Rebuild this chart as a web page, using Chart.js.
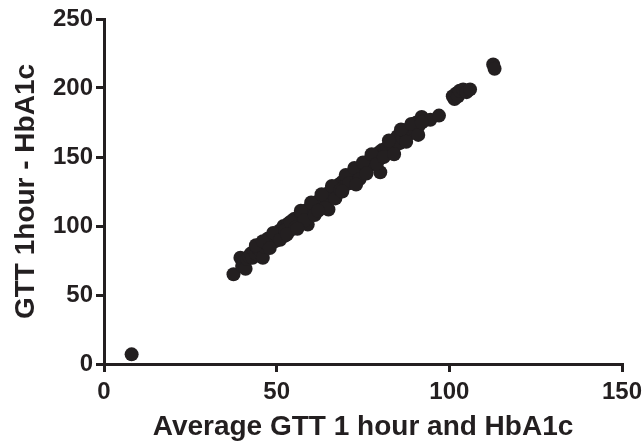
<!DOCTYPE html>
<html lang="en">
<head>
    <meta charset="UTF-8">
    <title>GTT 1 hour vs HbA1c</title>
    <script src="https://cdn.jsdelivr.net/npm/chart.js"></script>
    <style>
        html, body {
            margin: 0;
            padding: 0;
            background: #ffffff;
            overflow: hidden;
        }
        .chart-box {
            width: 643px;
            height: 446px;
        }
    </style>
</head>
<body>
    <div class="chart-box">
        <canvas id="diffChart"></canvas>
    </div>

    <script>
        // average of GTT 1 hour and HbA1c (x) against their difference (y)
        const avgValues = [
            8, 37.5, 39.5, 40, 40.5, 41, 41.5, 42, 42.5, 43, 43.5, 44, 44.5, 45, 45.5, 46, 46.5,
            47, 47.5, 48, 48.5, 49, 49.5, 50, 50.5, 51, 51.5, 52, 52.5, 53, 53.5, 54, 54.5,
            55, 55.5, 56, 56.5, 57, 57.5, 58, 58.5, 59, 59, 59.5, 60, 60.5, 61, 61.5, 62, 62.5,
            63, 63.5, 64, 64.5, 65, 65, 65.5, 66, 66.5, 67, 67.5, 68, 68.5, 69, 69.5, 70, 70.5,
            71, 71.5, 72, 72.5, 73, 73.5, 74, 74.5, 75, 76, 76.5, 77, 78, 78.5, 80, 79.5, 80,
            80.5, 81, 82, 82.5, 83, 84, 84.5, 85, 85.5, 86, 86.5, 87, 88, 88.5, 89, 89.5, 90,
            90.5, 91, 92, 92.5, 94.5, 97, 101, 101.5, 102, 102.5, 103, 104, 105, 106, 112.7, 113.1,
            // extra readings along the upper and lower edges of the band
            44, 46, 48, 49, 51, 52.5, 54, 55.5, 57, 58, 60, 61, 63, 64, 66, 67, 68.5, 70,
            71, 72.5, 74, 75, 76, 77.5, 79, 81, 82.5, 84, 86, 87.5, 89, 91, 92, 53, 56, 62, 69, 73
        ];
        const diffValues = [
            7, 65, 77, 71, 74, 69, 76, 78, 80, 77, 82, 80, 84, 83, 87, 77, 85,
            89, 91, 87, 90, 92, 89, 94, 92, 97, 95, 100, 93, 99, 102, 97, 103,
            105, 101, 106, 104, 109, 103, 110, 107, 112, 101, 110, 114, 111, 116, 113, 118, 115,
            120, 117, 122, 119, 112, 124, 121, 126, 123, 128, 125, 130, 127, 132, 129, 134, 131,
            136, 133, 138, 135, 140, 137, 142, 139, 144, 141, 146, 148, 145, 151, 139, 153, 149,
            155, 152, 157, 154, 160, 157, 162, 165, 160, 167, 164, 169, 166, 171, 168, 173, 170,
            175, 172, 179, 176, 177, 180, 194, 192, 196, 194, 198, 199, 197, 199, 217, 214,
            86, 89, 84, 95, 90, 97, 103, 99, 111, 104, 117, 108, 123, 113, 129, 120, 126, 137,
            131, 142, 134, 146, 138, 152, 145, 150, 162, 152, 170, 161, 174, 166, 175, 94, 98, 111, 125, 130
        ];
        const xTicks = [0, 50, 100, 150];
        const yTicks = [0, 50, 100, 150, 200, 250];

        const ink = '#231f20';
        const family = 'Arial, "Liberation Sans", sans-serif';

        const points = avgValues.map((x, i) => ({ x: x, y: diffValues[i] }));

        const ctx = document.getElementById('diffChart').getContext('2d');
        new Chart(ctx, {
            type: 'scatter',
            data: {
                datasets: [{
                    data: points,
                    backgroundColor: ink,
                    borderWidth: 0,
                    pointRadius: 7,
                    pointHoverRadius: 7
                }]
            },
            options: {
                responsive: true,
                maintainAspectRatio: false,
                animation: false,
                layout: { padding: { top: 19, right: 21, bottom: 0, left: 0 } },
                plugins: {
                    legend: { display: false },
                    tooltip: { enabled: false }
                },
                scales: {
                    x: {
                        type: 'linear',
                        min: 0,
                        max: 150,
                        afterBuildTicks: s => { s.ticks = xTicks.map(v => ({ value: v })); },
                        afterFit: s => {
                            s.height = 82;
                            s.paddingLeft = 0;
                            s.paddingRight = 0;
                        },
                        border: { display: true, color: ink, width: 3 },
                        grid: { drawOnChartArea: false, tickLength: 8, lineWidth: 3, color: ink },
                        ticks: {
                            padding: 6,
                            color: ink,
                            font: { family: family, size: 24, weight: 'bold' }
                        },
                        title: {
                            display: true,
                            text: 'Average GTT 1 hour and HbA1c',
                            color: ink,
                            padding: { top: 0, bottom: 2 },
                            font: { family: family, size: 28, weight: 'bold' }
                        }
                    },
                    y: {
                        type: 'linear',
                        min: 0,
                        max: 250,
                        afterBuildTicks: s => { s.ticks = yTicks.map(v => ({ value: v })); },
                        afterFit: s => {
                            s.width = 104;
                            s.paddingTop = 0;
                            s.paddingBottom = 0;
                        },
                        border: { display: true, color: ink, width: 3 },
                        grid: { drawOnChartArea: false, tickLength: 8, lineWidth: 3, color: ink },
                        ticks: {
                            padding: 3,
                            color: ink,
                            font: { family: family, size: 24, weight: 'bold' }
                        },
                        title: {
                            display: true,
                            text: 'GTT 1hour - HbA1c',
                            color: ink,
                            padding: { top: 9, bottom: 0 },
                            font: { family: family, size: 28, weight: 'bold' }
                        }
                    }
                }
            }
        });
    </script>
</body>
</html>
